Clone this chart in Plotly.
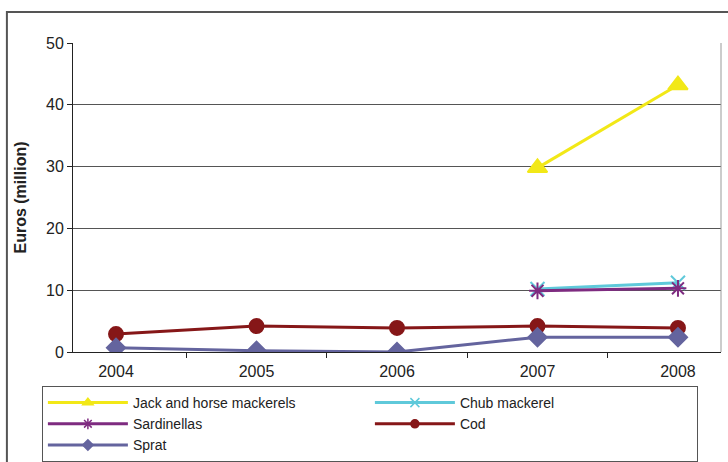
import plotly.graph_objects as go

years = ["2004", "2005", "2006", "2007", "2008"]
jack = [None, None, None, 29.8, 43.2]
chub = [None, None, None, 10.2, 11.2]
sardinellas = [None, None, None, 9.9, 10.3]
cod = [2.9, 4.2, 3.9, 4.2, 3.9]
sprat = [0.7, 0.2, 0.0, 2.4, 2.4]

series = [
    ("Jack and horse mackerels", jack, "#F2E817", "triangle-up", 17, 9),
    ("Chub mackerel", chub, "#5FC9DA", "x-thin-open", 14, 9),
    ("Sardinellas", sardinellas, "#7E2B80", "asterisk-open", 14, 9),
    ("Cod", cod, "#861718", "circle", 14, 8),
    ("Sprat", sprat, "#64649E", "diamond", 14, 8),
]

fig = go.Figure()
for name, vals, color, sym, size, lsize in series:
    fig.add_trace(go.Scatter(
        x=years, y=vals, name=name, mode="lines+markers",
        line=dict(color=color, width=3),
        marker=dict(symbol=sym, size=size, color=color,
                    line=dict(color=color, width=2)),
        connectgaps=False, showlegend=False, legendgroup=name,
    ))
for name, vals, color, sym, size, lsize in series:
    # legend-only entries with the small legend symbol
    fig.add_trace(go.Scatter(
        x=[None], y=[None], name=name, mode="lines+markers",
        line=dict(color=color, width=3),
        marker=dict(symbol=sym, size=lsize, color=color,
                    line=dict(color=color, width=1.5)),
        showlegend=True, legendgroup=name,
    ))

fig.update_layout(
    width=728, height=462,
    margin=dict(l=73, r=7, t=43, b=110, autoexpand=False),
    paper_bgcolor="white", plot_bgcolor="white",
    font=dict(family="Liberation Sans, Arial, sans-serif", color="#222", size=15),
    showlegend=True,
    legend=dict(
        orientation="h", x=-0.048, xanchor="left", y=-0.356, yanchor="bottom",
        entrywidth=232, entrywidthmode="pixels",
        bordercolor="#555", borderwidth=1, bgcolor="white",
        font=dict(size=14), tracegroupgap=0, itemwidth=80,
        traceorder="normal",
    ),
    xaxis=dict(
        type="category", showgrid=False, showline=True, linecolor="#222",
        linewidth=1, ticks="outside", tickson="boundaries", ticklen=5,
        tickcolor="#222", tickfont=dict(size=16), fixedrange=True,
        automargin=False, ticklabelstandoff=5,
    ),
    yaxis=dict(
        range=[0, 50], dtick=10, showgrid=True, gridcolor="#555", gridwidth=1,
        showline=True, linecolor="#222", linewidth=1, ticks="outside",
        ticklen=5, tickcolor="#222", tickfont=dict(size=16), zeroline=False,
        automargin=False,
        title=dict(text="<b>Euros (million)</b>", font=dict(size=16), standoff=15),
    ),
    shapes=[
        dict(type="rect", xref="paper", yref="paper", x0=-0.102, x1=1.02,
             y0=-0.6, y1=1.1, line=dict(color="#555", width=2), layer="below"),
        dict(type="line", xref="paper", yref="paper", x0=1, x1=1, y0=0, y1=1,
             line=dict(color="#999", width=1)),
    ],
)

fig.write_html("out.html", config={"displayModeBar": False},
               post_script="document.body.style.margin='0';")
